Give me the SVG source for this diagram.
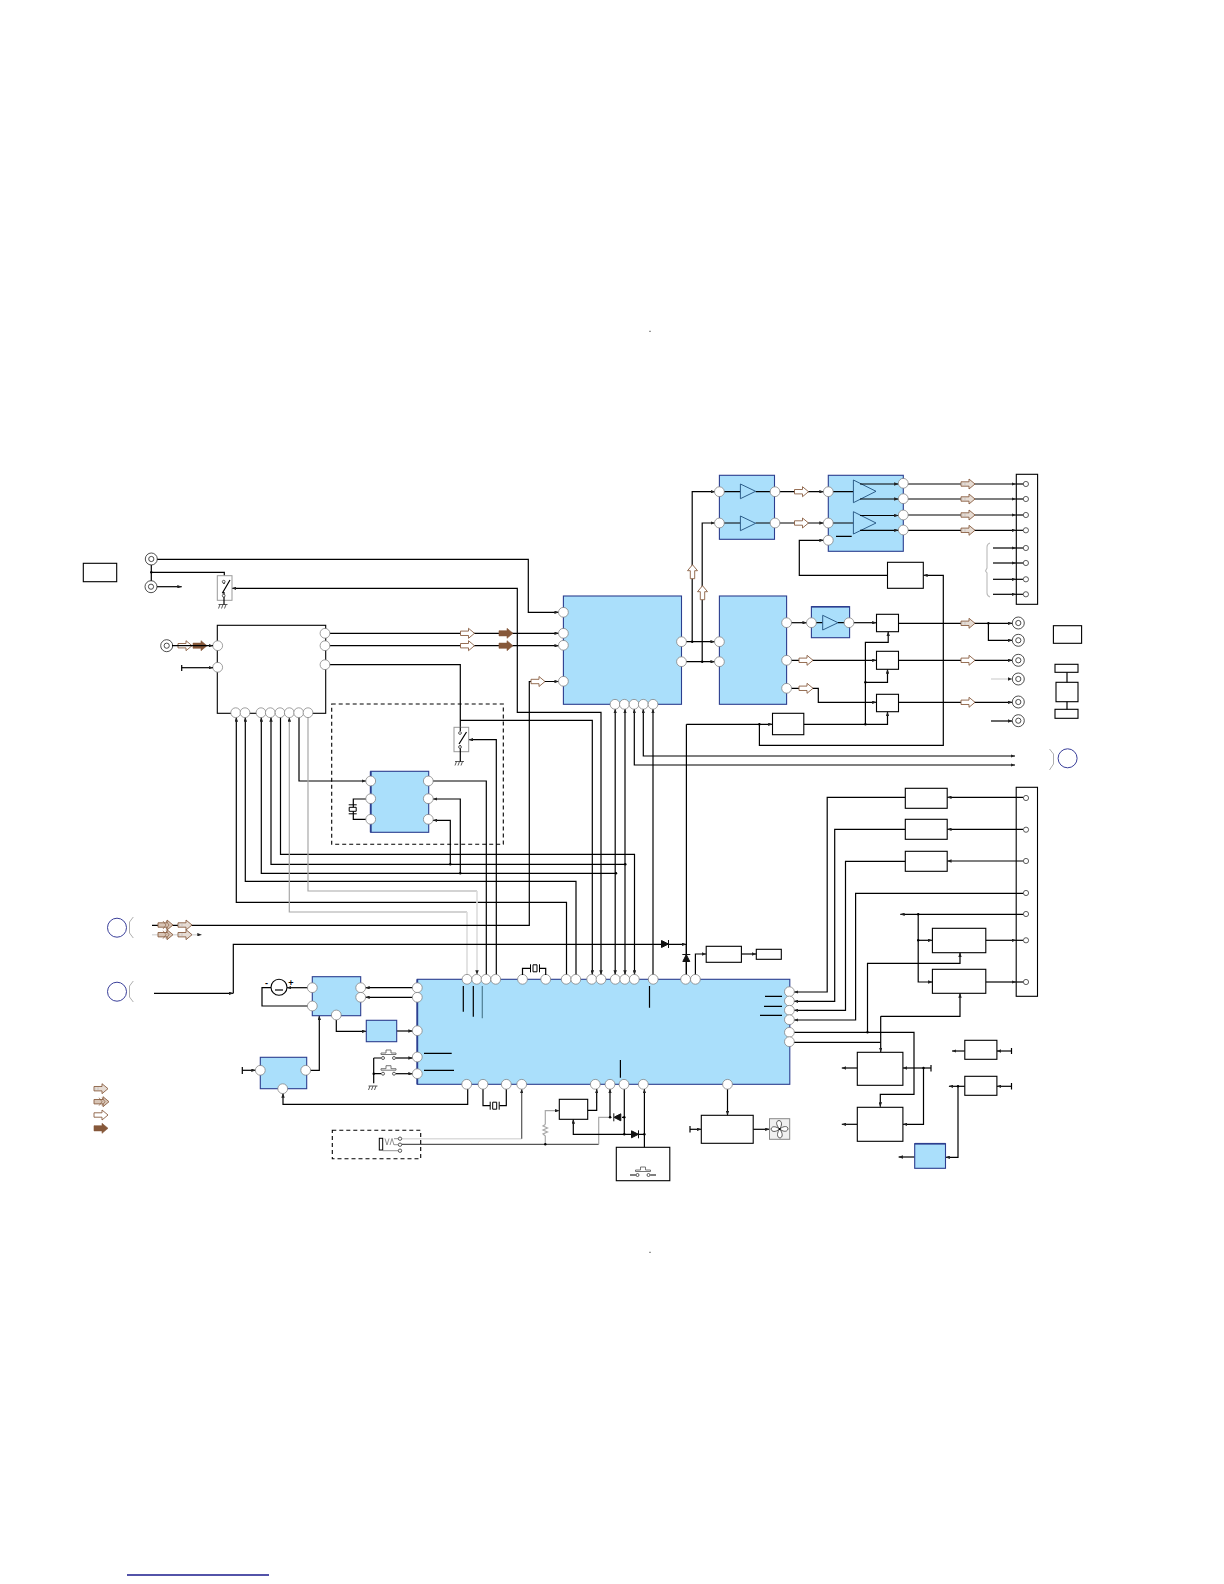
<svg xmlns="http://www.w3.org/2000/svg" width="1224" height="1584" viewBox="0 0 1224 1584">
<style>
.l,.s,.a,.sa{fill:none;stroke:#000;stroke-width:1.2}
.a,.sa{marker-end:url(#ah)}
.s,.sa{marker-start:url(#ah)}
.g{stroke:#a8a8a8}
.lg{stroke:#dcdcdc;stroke-width:1.6}
.dg{stroke:#555}
.b{fill:#aadffb;stroke:#2c3e8f;stroke-width:1.1}
.w{fill:#fff;stroke:#000;stroke-width:1.1}
.p{fill:#fff;stroke:#777;stroke-width:.7}
.c{fill:#fff;stroke:#333;stroke-width:.8}
.t{fill:#aadffb;stroke:#1f4f7d;stroke-width:.9}
.d{fill:none;stroke:#000;stroke-width:1.1;stroke-dasharray:4 3}
.sw{fill:#fff;stroke:#999;stroke-width:1}
.hole{fill:#fff;stroke:#8a5f42;stroke-width:.9}
.solid{fill:#86583a;stroke:#86583a;stroke-width:.6}
.ring{fill:#fff;stroke:#222;stroke-width:.8}
.mic{fill:#fff;stroke:#3a3f9a;stroke-width:1}
.brk{fill:none;stroke:#999;stroke-width:.8}
.dot{fill:#000}
.sy{font-family:"Liberation Sans",sans-serif;font-size:9px;font-weight:bold;fill:#000;text-anchor:middle}
</style>
<defs>
<marker id="ah" viewBox="0 0 5 4" refX="5" refY="2" markerWidth="4.4" markerHeight="3.5" markerUnits="userSpaceOnUse" orient="auto-start-reverse"><path d="M0 0L5 2L0 4Z" fill="#222"/></marker>
<path id="hArrow" class="hole" d="M-7-2.2H1V-5L7 0L1 5V2.2H-7Z"/>
<path id="sArrow" class="solid" d="M-7-2.6H1V-5L7 0L1 5V2.6H-7Z"/>
<g id="tArrow"><path fill="#e6dcd4" stroke="#8a5f42" stroke-width=".9" d="M-7-2.2H1V-5L7 0L1 5V2.2H-7Z"/><path fill="none" stroke="#bbb" stroke-width=".7" d="M-6-1V1M-3-1.500V1.500"/></g>
<g id="dArrow"><path fill="#d8c5b6" stroke="#8a5f42" stroke-width=".9" d="M-7-2.2H2V-5L8 0L2 5V2.2H-7Z"/><path fill="none" stroke="#8a5f42" stroke-width=".7" d="M-2-4L1 0L-2 4M1-4L4 0L1 4"/></g>
<g id="gnd"><path fill="none" stroke="#333" stroke-width=".8" d="M-5 0H4M-3.500 0L-5 4M-.5 0L-2 4M2.500 0L1 4"/></g>
<g id="xH"><path fill="#fff" stroke="#000" stroke-width="1" d="M-4.500-4V4M-2-3.500H2V3.500H-2ZM4.500-4V4"/></g>
<g id="xV"><path fill="#fff" stroke="#000" stroke-width="1" d="M-4-4.500H4M-3.500-2H3.500V2H-3.500ZM-4 4.500H4"/></g>
<g id="diodeR"><path fill="#111" stroke="#111" d="M-3.500-3.500L3-.2V.2L-3.500 3.500Z"/><path stroke="#111" fill="none" d="M3.500-4V4"/></g>
<g id="btn"><path fill="none" stroke="#666" stroke-width=".9" d="M-7.500-3.500H7.500M-7.500-3.500V-5H-2.500V-8H2.500V-5H7.500V-3.500"/><circle cx="-5.500" cy="0" r="1.500" class="c"/><circle cx="5.500" cy="0" r="1.500" class="c"/></g>
<circle id="pin" r="4.900" class="p"/>
<circle id="sp" r="2.600" class="c"/>
</defs>

<g id="connectors">
<path class="a" d="M151.300 559.300H528.300V612.300H558.800"/>
<path class="l" d="M151.300 559V586M151.300 572.300H224.300V581"/>
<path class="a" d="M151 586.700H181.700"/>
<path class="sa" d="M601 974.700V712.300H517.300V588.300H232"/>
<path class="a" d="M325 633.300H558.800"/>
<path class="a" d="M325 645.700H558.800"/>
<path class="l" d="M325 664.700H460.300V727.300"/>
<path class="a" d="M460.300 720.300H592.300V974.700"/>
<path class="a" d="M496.300 974.700V739.700H468.700"/>
<path class="l" d="M486.300 974.700V781H433"/>
<path class="a" d="M460.300 873.300V799H433"/>
<path class="a" d="M450.300 864.300V820.300H433"/>
<path class="a" d="M299 717.300V781H366"/>
<path class="s" d="M236.300 717.300V902.300H566.500V975"/>
<path class="s" d="M245.300 717.300V881.300H576V975"/>
<path class="s" d="M261.300 717.300V873.300H616"/>
<path class="s" d="M271 717.300V864.300H625.300"/>
<path class="a" d="M280.500 717.300V854.300H634.500V974.700"/>
<path class="s g" d="M289.300 717.300V912H467"/>
<path class="l lg" d="M467 912V975"/>
<path class="l g" d="M308 717.300V891H477"/>
<path class="a lg" d="M477 891V974.700"/>
<path class="sa" d="M615.200 709V974.700"/>
<path class="sa" d="M625 709V974.700"/>
<path class="sa" d="M634.300 709V765H1015"/>
<path class="sa" d="M643.300 709V756H1015"/>
<path class="s" d="M653 709V975"/>
<path class="a" d="M681.500 641.700H714.800"/>
<path class="a" d="M681.500 661.700H714.800"/>
<path class="a" d="M692.200 641.700V491.700H715"/>
<path class="a" d="M702.200 661.700V523H715"/>
<path class="a" d="M775 491.700H823.700"/>
<path class="a" d="M775 523H823.700"/>
<path class="a" d="M152 925.300H529.300V681.500H558.800"/>
<path class="a" d="M154 993.300H233.300"/>
<path class="a" d="M233.300 993.300V944.300H686.300"/>
<path class="a lg" d="M152 934.700H201.700"/>
<path class="l" d="M686.400 975V724.300"/>
<path class="a" d="M686.400 724.300H772.500"/>
<path class="a" d="M759.400 723.700V745.300H943.300V575.300H923.300"/>
<path class="a" d="M887.500 575.300H799.300V540.300H823.700"/>
<path class="a" d="M903 484H1016"/><path class="l" d="M1016 484H1023"/>
<path class="a" d="M903 499H1016"/><path class="l" d="M1016 499H1023"/>
<path class="a" d="M903 515H1016"/><path class="l" d="M1016 515H1023"/>
<path class="a" d="M903 530.300H1016"/><path class="l" d="M1016 530.300H1023"/>
<path class="a" d="M993 548H1016"/><path class="l" d="M1016 548H1023"/>
<path class="a" d="M993 563H1016"/><path class="l" d="M1016 563H1023"/>
<path class="a" d="M993 579.300H1016"/><path class="l" d="M1016 579.300H1023"/>
<path class="a" d="M993 594.300H1016"/><path class="l" d="M1016 594.300H1023"/>
<path class="a" d="M786.600 622.700H806.800"/>
<path class="a" d="M849 622.700H876.500"/>
<path class="a" d="M786.600 660.300H876.500"/>
<path class="a" d="M786.600 688.300H818.300V702.300H876.500"/>
<path class="a" d="M898.500 623.300H1012.300"/>
<path class="a" d="M988.400 623.300V640.300H1012.300"/>
<path class="a" d="M898.500 660.300H1012.300"/>
<path class="a" d="M898.500 702.300H1012.300"/>
<path class="a lg" d="M991 679H1012.300"/>
<path class="a" d="M991 721H1012.300"/>
<path class="a" d="M803.800 724.300H887.500V711.700"/>
<path class="a" d="M865.400 724.300V642.300H888.200V631.700"/>
<path class="a" d="M865.400 682.300H887.500V669.300"/>
<path class="a" d="M905.300 797.300H827.200V992H794"/>
<path class="a" d="M905.300 829.300H834.700V1001.300H794"/>
<path class="a" d="M905.300 861.300H845.500V1010.300H794"/>
<path class="a" d="M1023 893.300H855.600V1020H794"/>
<path class="a" d="M1023 797.300H947.200"/>
<path class="a" d="M1023 829.300H947.200"/>
<path class="a" d="M1023 861H947.200"/>
<path class="a" d="M1023 914.300H900.300"/>
<path class="a" d="M918.200 914.300V982H932.400"/>
<path class="a" d="M918.200 940.300H932.400"/>
<path class="a" d="M985.800 940.300H1016"/><path class="l" d="M1016 940.300H1023"/>
<path class="a" d="M985.800 982H1016"/><path class="l" d="M1016 982H1023"/>
<path class="a" d="M789.400 1032.300H914V1094.300H880.300V1106.700"/>
<path class="l" d="M789.400 1042.300H880.700"/>
<path class="a" d="M880.700 1016.300V1052"/>
<path class="a" d="M880.700 1016.300H960V993.300"/>
<path class="a" d="M867.500 1032.300V963.300H960V952.700"/>
<path class="a" d="M857.300 1068H841.800"/>
<path class="a" d="M857.300 1124.300H841.800"/>
<path class="a" d="M931 1068H902.900"/><path class="l" d="M931 1065V1071.500"/>
<path class="a" d="M923.500 1068V1124.300H902.900"/>
<path class="a" d="M1011.500 1051H996.900"/><path class="l" d="M1011.500 1048V1054"/>
<path class="a" d="M964.800 1051H952.100"/>
<path class="a" d="M1011.500 1086.300H996.900"/><path class="l" d="M1011.500 1083V1089.500"/>
<path class="a" d="M964.800 1086.300H948.900"/>
<path class="a" d="M958 1086.300V1157.300H945.500"/>
<path class="a" d="M914.700 1157H898.600"/>
<path class="a" d="M727.500 1084.300V1115.300"/>
<path class="a" d="M690 1129.300H701.300"/><path class="l" d="M690 1126V1132.500"/>
<path class="a" d="M753.200 1129.300H769.500"/>
<path class="a" d="M695.400 975V954H706.200"/>
<path class="a" d="M741.400 954H756.300"/>
<path class="l" d="M686.300 944V975"/>
<path class="l" d="M271 987.700H262V1006H307.700"/>
<path class="a" d="M307.700 987.700H287"/>
<path class="a" d="M412.700 987.700H365.300"/>
<path class="a" d="M412.700 997.300H365.300"/>
<path class="a" d="M336.300 1019.600V1031.300H366.300"/>
<path class="a" d="M396.700 1031H412.700"/>
<path class="a" d="M242.300 1070.300H255.700"/><path class="l" d="M242.300 1067V1074"/>
<path class="a" d="M310 1070.300H319.300V1015.700"/>
<path class="a" d="M467.700 1089V1104.300H283V1093.300"/>
<path class="l" d="M373.700 1058V1083.300M373.700 1058H381M373.700 1073.700H381"/>
<path class="a" d="M396 1058H412.700"/>
<path class="a" d="M396 1073.700H412.700"/>
<path class="l" d="M483 1089V1105.700H490"/>
<path class="l" d="M499.500 1105.700H506.300V1089"/>
<path class="l lg" d="M401.700 1138.700H521.700"/>
<path class="a dg" d="M521.700 1138.700V1089"/>
<path class="l dg" d="M402 1144.300H598.700"/>
<path class="l g" d="M598.700 1144.300V1117.300H612"/>
<path class="l g" d="M545.300 1144.300V1136L543 1134L547.500 1132L543 1130L547.500 1128L543 1126L545.300 1124.500"/>
<path class="a g" d="M545.300 1124.500V1110.700H559.300"/>
<path class="a" d="M587.700 1110.300H596.700V1089"/>
<path class="a" d="M645 1134.300H573.300V1119.300"/>
<path class="a" d="M610 1117.300V1089"/>
<path class="l" d="M624.300 1134.300V1089M622 1117.300H624.300"/>
<path class="a" d="M644.400 1147.300V1089"/>
<circle class="dot" cx="460.300" cy="873.300" r="1.200"/>
<circle class="dot" cx="450.300" cy="864.300" r="1.200"/>
<circle class="dot" cx="616" cy="873.300" r="1.200"/>
<circle class="dot" cx="625.300" cy="864.300" r="1.200"/>
<circle class="dot" cx="692.200" cy="641.700" r="1.200"/>
<circle class="dot" cx="702.200" cy="661.700" r="1.200"/>
<circle class="dot" cx="151.300" cy="572.300" r="1.200"/>
<circle class="dot" cx="988.400" cy="623.300" r="1.200"/>
<circle class="dot" cx="865.400" cy="724.300" r="1.200"/>
<circle class="dot" cx="865.400" cy="682.300" r="1.200"/>
<circle class="dot" cx="759.400" cy="724.300" r="1.200"/>
<circle class="dot" cx="918.200" cy="914.300" r="1.200"/>
<circle class="dot" cx="918.200" cy="940.300" r="1.200"/>
<circle class="dot" cx="867.500" cy="1032.300" r="1.200"/>
<circle class="dot" cx="923.500" cy="1068" r="1.200"/>
<circle class="dot" cx="958" cy="1086.300" r="1.200"/>
<circle class="dot" cx="545.300" cy="1144.300" r="1.200"/>
<circle class="dot" cx="610" cy="1117.300" r="1.200"/>
<circle class="dot" cx="624.300" cy="1117.300" r="1.200"/>
<circle class="dot" cx="624.300" cy="1134.300" r="1.200"/>
<circle class="dot" cx="644.400" cy="1134.300" r="1.200"/>
<circle class="dot" cx="373.700" cy="1073.700" r="1.200"/>
</g>

<g id="signal-arrows">
<use href="#hArrow" x="467.500" y="633.300"/><use href="#sArrow" x="506" y="633.300"/>
<use href="#hArrow" x="467.500" y="645.700"/><use href="#sArrow" x="506" y="645.700"/>
<use href="#hArrow" x="538" y="681.500"/>
<use href="#hArrow" x="185" y="645.700"/><use href="#sArrow" x="200" y="645.700"/>
<use href="#hArrow" x="801.500" y="491.700"/><use href="#hArrow" x="801.500" y="523"/>
<use href="#tArrow" x="968" y="484"/><use href="#tArrow" x="968" y="499"/><use href="#tArrow" x="968" y="515"/><use href="#tArrow" x="968" y="530.300"/>
<use href="#tArrow" x="968" y="623.300"/><use href="#hArrow" x="968" y="660.300"/><use href="#hArrow" x="968" y="702.300"/>
<use href="#hArrow" x="806" y="660.300"/><use href="#hArrow" x="806" y="688.300"/>
<use href="#hArrow" transform="translate(692.500 571.700) rotate(-90)"/>
<use href="#hArrow" transform="translate(702.500 592.700) rotate(-90)"/>
<use href="#dArrow" x="165" y="925"/><use href="#tArrow" x="185" y="925"/>
<use href="#dArrow" x="165" y="934.700"/><use href="#tArrow" x="185" y="934.700"/>
</g>

<g id="legend">
<use href="#tArrow" x="101" y="1088.700"/>
<use href="#dArrow" x="101" y="1101.700"/>
<use href="#hArrow" x="101" y="1115"/>
<use href="#sArrow" x="101" y="1128.300"/>
</g>

<g id="box-a"><rect class="b" x="563.400" y="596" width="118.100" height="108.300"/>
<use href="#pin" x="563.400" y="612.300"/><use href="#pin" x="563.400" y="633.300"/><use href="#pin" x="563.400" y="645.300"/><use href="#pin" x="563.400" y="681.300"/>
<use href="#pin" x="681.500" y="641.700"/><use href="#pin" x="681.500" y="661.700"/>
<use href="#pin" x="615" y="704.300"/><use href="#pin" x="624.400" y="704.300"/><use href="#pin" x="634" y="704.300"/><use href="#pin" x="643.300" y="704.300"/><use href="#pin" x="653" y="704.300"/></g>

<g id="amp-1"><rect class="b" x="719.400" y="475.300" width="55.100" height="64"/>
<path class="l" d="M719.400 491.700H740.400M755.600 491.700H775M719.400 523H740.400M755.600 523H775"/>
<path class="t" d="M740.400 484V498.700L755.600 491.300ZM740.400 516V530.700L755.600 523.300Z"/>
<use href="#pin" x="719.400" y="491.700"/><use href="#pin" x="719.400" y="523"/><use href="#pin" x="775" y="491.700"/><use href="#pin" x="775" y="523"/></g>

<g id="amp-2"><rect class="b" x="828.300" y="475.300" width="75" height="76"/>
<path class="l" d="M828.300 491.700H853.400M828.300 523H853.400M836 536.300H851.700"/>
<path class="t" d="M853.400 480V502.700L876 491.300ZM853.400 511.700V534L876 523Z"/>
<path class="a" d="M860 484H898.500"/><path class="a" d="M860 499H898.500"/><path class="a" d="M860 515.500H898.500"/><path class="a" d="M860 530.300H898.500"/>
<use href="#pin" x="828.300" y="491.700"/><use href="#pin" x="828.300" y="523"/><use href="#pin" x="828.300" y="540.300"/>
<use href="#pin" x="903.300" y="483.300"/><use href="#pin" x="903.300" y="498.700"/><use href="#pin" x="903.300" y="515"/><use href="#pin" x="903.300" y="530"/></g>

<g id="box-b3"><rect class="b" x="719.400" y="596" width="67.200" height="108.300"/>
<use href="#pin" x="719.400" y="641.700"/><use href="#pin" x="719.400" y="661.700"/>
<use href="#pin" x="786.600" y="622.700"/><use href="#pin" x="786.600" y="660.300"/><use href="#pin" x="786.600" y="688.300"/></g>

<g id="amp-3"><rect class="b" x="811.400" y="606.700" width="38.200" height="31"/>
<path d="M811.400 606.700H849.600" stroke="#2c3e8f" stroke-width="1.600"/>
<path class="l" d="M811.400 622.700H822.700M838 622.700H849"/>
<path class="t" d="M822.700 615.300V630L838 622.700Z"/>
<use href="#pin" x="811.400" y="622.700"/><use href="#pin" x="849" y="622.700"/></g>

<g id="box-sm"><rect class="w" x="887.500" y="562.300" width="35.800" height="26"/></g>
<g id="mix-1"><rect class="w" x="876.500" y="614.300" width="22" height="17.400"/></g>
<g id="mix-2"><rect class="w" x="876.500" y="651.300" width="22" height="18"/></g>
<g id="mix-3"><rect class="w" x="876.500" y="694.300" width="22" height="17.400"/></g>
<g id="box-c"><rect class="w" x="772.500" y="713.300" width="31.300" height="21.400"/></g>

<g id="strip-1"><rect class="w" x="1016.300" y="474.300" width="21.300" height="130" style="fill:none"/>
<use href="#sp" x="1025.900" y="484"/><use href="#sp" x="1025.900" y="499"/><use href="#sp" x="1025.900" y="515"/><use href="#sp" x="1025.900" y="530.300"/><use href="#sp" x="1025.900" y="548"/><use href="#sp" x="1025.900" y="563"/><use href="#sp" x="1025.900" y="579.300"/><use href="#sp" x="1025.900" y="594.300"/></g>
<g id="brace"><path fill="none" stroke="#bbb" stroke-width="1.100" d="M990 543Q987 544 987 547V568L985.500 571L987 573V593Q987 596 990 597"/></g>

<g id="jacks-right">
<g id="j1"><circle class="ring" cx="1018.300" cy="623" r="6"/><circle class="ring" cx="1018.300" cy="623" r="2.600"/></g>
<g id="j2"><circle class="ring" cx="1018.300" cy="640.300" r="6"/><circle class="ring" cx="1018.300" cy="640.300" r="2.600"/></g>
<g id="j3"><circle class="ring" cx="1018.300" cy="660.300" r="6"/><circle class="ring" cx="1018.300" cy="660.300" r="2.600"/></g>
<g id="j4"><circle class="ring" cx="1018.300" cy="679" r="6"/><circle class="ring" cx="1018.300" cy="679" r="2.600"/></g>
<g id="j5"><circle class="ring" cx="1018.300" cy="702" r="6"/><circle class="ring" cx="1018.300" cy="702" r="2.600"/></g>
<g id="j6"><circle class="ring" cx="1018.300" cy="720.700" r="6"/><circle class="ring" cx="1018.300" cy="720.700" r="2.600"/></g>
</g>
<g id="lbl-box"><rect class="w" x="1053.400" y="625.700" width="28.200" height="17.600"/></g>
<g id="stack"><path class="l" d="M1067 672V710"/>
<rect class="w" x="1055" y="664.300" width="23" height="8"/><rect class="w" x="1056" y="682.300" width="22" height="19.400"/><rect class="w" x="1055" y="709.300" width="23" height="9"/></g>
<g id="mic-r"><circle class="mic" cx="1067.600" cy="758.300" r="9.500"/><path class="brk" d="M1049.500 749L1053.500 754V764L1049.500 770"/></g>

<g id="src-box"><rect class="w" x="83.300" y="563.300" width="33.400" height="18.400"/></g>
<g id="jack-1"><circle class="ring" cx="151.300" cy="559" r="6"/><circle class="ring" cx="151.300" cy="559" r="2.600"/></g>
<g id="jack-2"><circle class="ring" cx="151" cy="586.700" r="6"/><circle class="ring" cx="151" cy="586.700" r="2.600"/></g>
<g id="jack-3"><circle class="ring" cx="166.700" cy="645.700" r="6"/><circle class="ring" cx="166.700" cy="645.700" r="2.600"/></g>

<g id="sw-1"><rect class="sw" x="217.300" y="575.700" width="14.700" height="24.600"/>
<path class="l" d="M224 581V584M224 592V605M222.300 593.300L230 580"/>
<circle class="c" cx="223.700" cy="581.700" r="1.400"/><circle class="c" cx="223.700" cy="595.700" r="1.400"/>
<use href="#gnd" x="223.500" y="604.500"/></g>

<g id="box-d"><rect class="w" x="217.300" y="625.300" width="108.400" height="88" style="fill:none"/>
<use href="#pin" x="217.700" y="645.700"/><use href="#pin" x="217.700" y="667.300"/>
<use href="#pin" x="325" y="633.300"/><use href="#pin" x="325" y="645.700"/><use href="#pin" x="325" y="664.700"/>
<use href="#pin" x="235.700" y="712.700"/><use href="#pin" x="245" y="712.700"/><use href="#pin" x="261" y="712.700"/><use href="#pin" x="270.300" y="712.700"/><use href="#pin" x="280" y="712.700"/><use href="#pin" x="289.300" y="712.700"/><use href="#pin" x="298.700" y="712.700"/><use href="#pin" x="308" y="712.700"/></g>
<g id="d-in"><path class="a" d="M181.700 667.700H213"/><path class="l" d="M181.700 665V671"/><path class="a" d="M172 645.700H213"/></g>

<g id="dash-1"><rect class="d" x="331.700" y="704" width="171.600" height="140.300"/></g>
<g id="sw-2"><rect class="sw" x="454" y="727.300" width="14.700" height="24.400"/>
<path class="l" d="M460.300 727.300V731M460.300 745V762M459 744L466.500 732"/>
<circle class="c" cx="460" cy="733" r="1.400"/><circle class="c" cx="460" cy="747" r="1.400"/>
<use href="#gnd" x="460" y="761.500"/></g>

<g id="box-e"><path class="l" d="M366 799H353.300V819.300H366"/><use href="#xV" x="352.700" y="809.300"/>
<rect class="b" x="370.700" y="771.300" width="58" height="61"/><path d="M370.700 771.300V832.300" stroke="#2c3e8f" stroke-width="1.800"/>
<use href="#pin" x="370.700" y="781"/><use href="#pin" x="370.700" y="798.700"/><use href="#pin" x="370.700" y="819.300"/>
<use href="#pin" x="428.300" y="781"/><use href="#pin" x="428.300" y="798.700"/><use href="#pin" x="428.300" y="819.300"/></g>

<g id="mic-1"><circle class="mic" cx="117" cy="927.700" r="9.500"/><path class="brk" d="M133.300 917L129.500 922V933L133.300 938"/></g>
<g id="mic-2"><circle class="mic" cx="117" cy="991.700" r="9.500"/><path class="brk" d="M133.300 981L129.500 986V997L133.300 1002"/></g>

<g id="motor"><circle cx="279" cy="987.300" r="8" class="w"/><path class="l" d="M275 990H283"/>
<text class="sy" x="266.500" y="985.500">-</text><text class="sy" x="291" y="985.500">+</text></g>

<g id="box-f"><rect class="b" x="312.300" y="976.700" width="48.400" height="39"/>
<use href="#pin" x="312.300" y="987.700"/><use href="#pin" x="312.300" y="1006"/><use href="#pin" x="360.700" y="987.700"/><use href="#pin" x="360.700" y="997.300"/><use href="#pin" x="336.300" y="1015"/></g>
<g id="box-g"><rect class="b" x="366.300" y="1020.300" width="30.400" height="21.400"/></g>
<g id="box-h"><rect class="b" x="260.300" y="1057.300" width="46.400" height="31.400"/>
<use href="#pin" x="260.300" y="1070.300"/><use href="#pin" x="305.700" y="1070.300"/><use href="#pin" x="282.700" y="1088.700"/></g>
<g id="btn-1"><use href="#btn" x="388.500" y="1058"/></g>
<g id="btn-2"><use href="#btn" x="388.500" y="1073.700"/><use href="#gnd" x="373.500" y="1086"/></g>

<g id="main"><rect class="b" x="417.300" y="979.300" width="372.500" height="105"/>
<path d="M417.300 979.300V1084.300" stroke="#2c3e8f" stroke-width="1.800"/>
<path class="l" d="M463.300 986V1011.700M473.300 986V1016.700"/><path class="l" style="stroke:#4f7d92" d="M482.300 986V1018.300"/>
<path class="l" d="M424 1053.300H451.700M424 1070.300H454M649.500 986V1007.700M620.400 1060V1077.700M765 996.300H782M764 1006.300H782M760 1015.300H782"/>
<use href="#pin" x="467" y="979.300"/><use href="#pin" x="476.700" y="979.300"/><use href="#pin" x="486" y="979.300"/><use href="#pin" x="495.700" y="979.300"/><use href="#pin" x="522.500" y="979.300"/><use href="#pin" x="545.700" y="979.300"/><use href="#pin" x="566.200" y="979.300"/><use href="#pin" x="575.800" y="979.300"/><use href="#pin" x="591.700" y="979.300"/><use href="#pin" x="601" y="979.300"/><use href="#pin" x="615.300" y="979.300"/><use href="#pin" x="624.800" y="979.300"/><use href="#pin" x="634.300" y="979.300"/><use href="#pin" x="653.200" y="979.300"/><use href="#pin" x="685.600" y="979.300"/><use href="#pin" x="695.400" y="979.300"/>
<use href="#pin" x="417.300" y="987.700"/><use href="#pin" x="417.300" y="997.300"/><use href="#pin" x="417.300" y="1030.700"/><use href="#pin" x="417.300" y="1057"/><use href="#pin" x="417.300" y="1073.700"/>
<use href="#pin" x="789.400" y="991.700"/><use href="#pin" x="789.400" y="1001"/><use href="#pin" x="789.400" y="1010.300"/><use href="#pin" x="789.400" y="1019.700"/><use href="#pin" x="789.400" y="1032.300"/><use href="#pin" x="789.400" y="1041.700"/>
<use href="#pin" x="466.700" y="1084.300"/><use href="#pin" x="483" y="1084.300"/><use href="#pin" x="506.300" y="1084.300"/><use href="#pin" x="521.700" y="1084.300"/><use href="#pin" x="595.300" y="1084.300"/><use href="#pin" x="610" y="1084.300"/><use href="#pin" x="624" y="1084.300"/><use href="#pin" x="643.300" y="1084.300"/><use href="#pin" x="727.500" y="1084.300"/></g>

<g id="xtal-top"><path class="l" d="M522.500 975V968.300H531M539 968.300H545.700V975"/><use href="#xH" x="535" y="968.300"/></g>
<g id="xtal-bot"><use href="#xH" x="494.700" y="1105.700"/></g>
<g id="diode-1"><use href="#diodeR" x="665" y="944"/></g>
<g id="diode-2"><use href="#diodeR" transform="translate(686.300 958) rotate(-90)"/></g>
<g id="diode-3"><use href="#diodeR" transform="translate(617.300 1117.300) rotate(180)"/></g>
<g id="diode-4"><use href="#diodeR" x="635" y="1134.300"/></g>

<g id="box-k"><rect class="w" x="706.200" y="946.300" width="35.200" height="16"/></g>
<g id="box-l"><rect class="w" x="756.300" y="949.300" width="25" height="10"/></g>
<g id="box-r1"><rect class="w" x="905.300" y="788.300" width="41.900" height="20"/></g>
<g id="box-r2"><rect class="w" x="905.300" y="819.300" width="41.900" height="20"/></g>
<g id="box-r3"><rect class="w" x="905.300" y="851.300" width="41.900" height="20"/></g>
<g id="strip-2"><rect class="w" style="fill:none" x="1016.200" y="787.300" width="21.300" height="209"/>
<use href="#sp" x="1026" y="798"/><use href="#sp" x="1026" y="829.700"/><use href="#sp" x="1026" y="861"/><use href="#sp" x="1026" y="893"/><use href="#sp" x="1026" y="914"/><use href="#sp" x="1026" y="940.300"/><use href="#sp" x="1026" y="982"/></g>
<g id="box-m"><rect class="w" x="932.400" y="928.300" width="53.400" height="24.400"/></g>
<g id="box-n"><rect class="w" x="932.400" y="969.300" width="53.400" height="24"/></g>
<g id="box-o"><rect class="w" x="857.300" y="1052.300" width="45.600" height="33"/></g>
<g id="box-p"><rect class="w" x="857.300" y="1107.300" width="45.600" height="34"/></g>
<g id="box-q"><rect class="w" x="964.800" y="1040.300" width="32.100" height="19"/></g>
<g id="box-r"><rect class="w" x="964.800" y="1076.300" width="32.100" height="19"/></g>
<g id="box-s"><rect class="b" x="914.700" y="1143.700" width="30.800" height="24.600"/><path d="M914.700 1143.700H945.500" stroke="#2c3e8f" stroke-width="1.600"/></g>
<g id="box-t"><rect class="w" x="701.300" y="1115.300" width="51.900" height="28"/></g>
<g id="fan"><rect x="769.500" y="1118.700" width="20.200" height="20.600" fill="#f0f0f0" stroke="#888" stroke-width="1"/>
<path fill="#fff" stroke="#333" stroke-width=".8" d="M779.600 1129C776 1125 775.500 1121 779 1120.500C782.500 1121 782 1126 779.600 1129ZM779.600 1129C784 1125.500 788 1126 788 1129C787 1132.500 782.500 1131.500 779.600 1129ZM779.600 1129C783 1133 783 1137.500 780 1138C776.500 1137.500 777 1132.500 779.600 1129ZM779.600 1129C775.500 1132.500 771.500 1132 771 1129C772 1125.500 776.500 1126.500 779.600 1129Z"/><circle class="dot" cx="779.600" cy="1129" r="1"/></g>
<g id="box-i"><rect class="w" x="559.300" y="1099.300" width="28.400" height="20"/></g>
<g id="box-j"><rect class="w" x="616.300" y="1147.300" width="53.500" height="33.400"/>
<path class="l" d="M630 1175H635.800M650.300 1175H656"/><use href="#btn" x="643" y="1175"/></g>
<g id="dash-2"><rect class="d" x="332.300" y="1130.300" width="88.400" height="28.400"/>
<rect x="379.300" y="1138.300" width="3.400" height="11.700" fill="#fff" stroke="#000" stroke-width="1"/>
<path fill="none" stroke="#777" stroke-width=".8" d="M385 1138.500L387 1145L389 1138.500M390 1145L392 1138.500L394 1145M394 1138.700H398M394 1144.700H398M382.700 1150.700H398"/>
<circle class="c" cx="400" cy="1138.700" r="1.700"/><circle class="c" cx="400" cy="1144.700" r="1.700"/><circle class="c" cx="400" cy="1150.700" r="1.700"/></g>

<g id="marks"><rect x="649.500" y="330.800" width="1" height="1" fill="#000"/><rect x="649.500" y="1251.800" width="1" height="1" fill="#000"/>
<path d="M127 1575H269" stroke="#1a1a8c" stroke-width="1.300"/></g>
</svg>
